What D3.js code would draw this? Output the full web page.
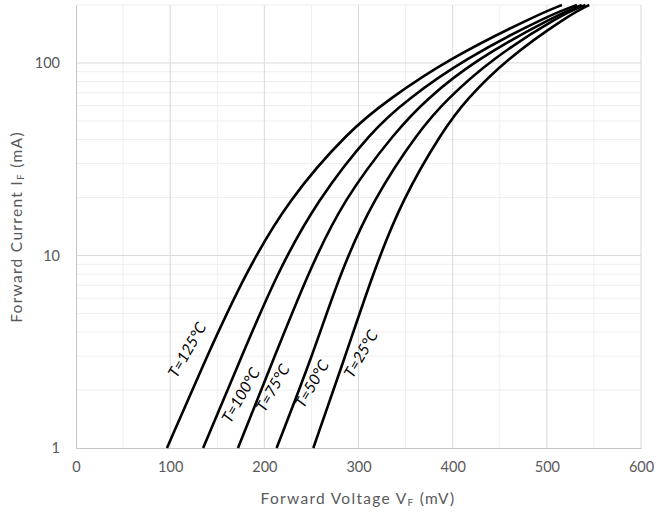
<!DOCTYPE html>
<html>
<head>
<meta charset="utf-8">
<script src="https://cdn.jsdelivr.net/npm/d3@7"></script>
<style>
  body { margin: 0; background: #fff; }
  text { font-family: Lato, "Open Sans", sans-serif; }
</style>
</head>
<body>
<svg id="chart" width="656" height="515"></svg>
<script>
// forward current (mA) at which each curve was read
var currents = [1, 3, 8, 19.4, 45, 64, 104, 178, 200];

// forward voltage (mV) per temperature
var vf125 = [96.6, 139, 179.5, 225, 291, 331, 394, 490, 516];
var vf100 = [135, 176, 213, 256, 315, 351, 411, 503, 532];
var vf75  = [172, 211, 246, 283.5, 341, 371, 424, 511, 537];
var vf50  = [213, 251, 280, 315, 365, 393, 440, 515, 541];
var vf25  = [252, 286, 315, 346, 390, 414, 456, 524, 545];

var temps = ["T=125°C", "T=100°C", "T=75°C", "T=50°C", "T=25°C"];
var series = [vf125, vf100, vf75, vf50, vf25];

var xTicks = [0, 100, 200, 300, 400, 500, 600];
var yTicks = [1, 10, 100];

var svg = d3.select("#chart");

var x = d3.scaleLinear().domain([0, 600]).range([76, 641]);
var y = d3.scaleLog().domain([1, 200]).range([448, 5]);

// grid lines
var minorX = d3.range(50, 601, 100);
var minorY = [2,3,4,5,6,7,8,9,20,30,40,50,60,70,80,90,200];

svg.append("g").selectAll("line")
  .data(minorY).enter().append("line")
  .attr("x1", x(0)).attr("x2", x(600))
  .attr("y1", d => y(d)).attr("y2", d => y(d))
  .attr("stroke", "#eeeeee");

svg.append("g").selectAll("line")
  .data(minorX).enter().append("line")
  .attr("x1", d => x(d)).attr("x2", d => x(d))
  .attr("y1", y(1)).attr("y2", y(200))
  .attr("stroke", "#eeeeee");

svg.append("g").selectAll("line")
  .data(yTicks.slice(1)).enter().append("line")
  .attr("x1", x(0)).attr("x2", x(600))
  .attr("y1", d => y(d)).attr("y2", d => y(d))
  .attr("stroke", "#d9d9d9");

svg.append("g").selectAll("line")
  .data(xTicks.slice(1)).enter().append("line")
  .attr("x1", d => x(d)).attr("x2", d => x(d))
  .attr("y1", y(1)).attr("y2", y(200))
  .attr("stroke", "#d9d9d9");

// axes
var xAxis = svg.append("g")
  .attr("transform", "translate(0," + y(1) + ")")
  .call(d3.axisBottom(x).tickValues(xTicks).tickSize(0).tickPadding(14));
var yAxis = svg.append("g")
  .attr("transform", "translate(" + x(0) + ",0)")
  .call(d3.axisLeft(y).tickValues(yTicks).tickFormat(d3.format("d")).tickSize(0).tickPadding(16));

[xAxis, yAxis].forEach(function(a) {
  a.select(".domain").attr("stroke", "#c4c4c4");
  a.selectAll("text").attr("fill", "#595959").style("font-size", "14.5px");
});

// curves
var line = d3.line()
  .x(d => x(d[0]))
  .y(d => y(d[1]))
  .curve(d3.curveBasis);

svg.append("g").selectAll("path")
  .data(series).enter().append("path")
  .attr("d", s => line(s.map((v, i) => [v, currents[i]])))
  .attr("fill", "none")
  .attr("stroke", "#000")
  .attr("stroke-width", 2.6);

// curve labels (anchor in data units)
var labelV = [118, 175, 209, 250.6, 302.6];
var labelI = [3.23, 1.88, 2.05, 2.15, 3.08];

svg.append("g").selectAll("text")
  .data(temps).enter().append("text")
  .attr("transform", (d, i) => "translate(" + x(labelV[i]) + "," + y(labelI[i]) + ") rotate(-60)")
  .attr("text-anchor", "middle")
  .attr("dy", "0.35em")
  .style("font-size", "15.5px")
  .style("font-style", "italic")
  .attr("fill", "#000")
  .text(d => d);

// axis titles
var xt = svg.append("text")
  .attr("x", 358).attr("y", 504)
  .attr("text-anchor", "middle")
  .attr("fill", "#595959")
  .style("font-size", "15.5px")
  .style("letter-spacing", "1.3px");
xt.append("tspan").text("Forward Voltage V");
xt.append("tspan").text("F").style("font-size", "10px").attr("dy", 2);
xt.append("tspan").text(" (mV)").attr("dy", -2);

var yt = svg.append("text")
  .attr("transform", "translate(22,227) rotate(-90)")
  .attr("text-anchor", "middle")
  .attr("fill", "#595959")
  .style("font-size", "15.5px")
  .style("letter-spacing", "1.3px");
yt.append("tspan").text("Forward Current I");
yt.append("tspan").text("F").style("font-size", "10px").attr("dy", 2);
yt.append("tspan").text(" (mA)").attr("dy", -2);
</script>
</body>
</html>
